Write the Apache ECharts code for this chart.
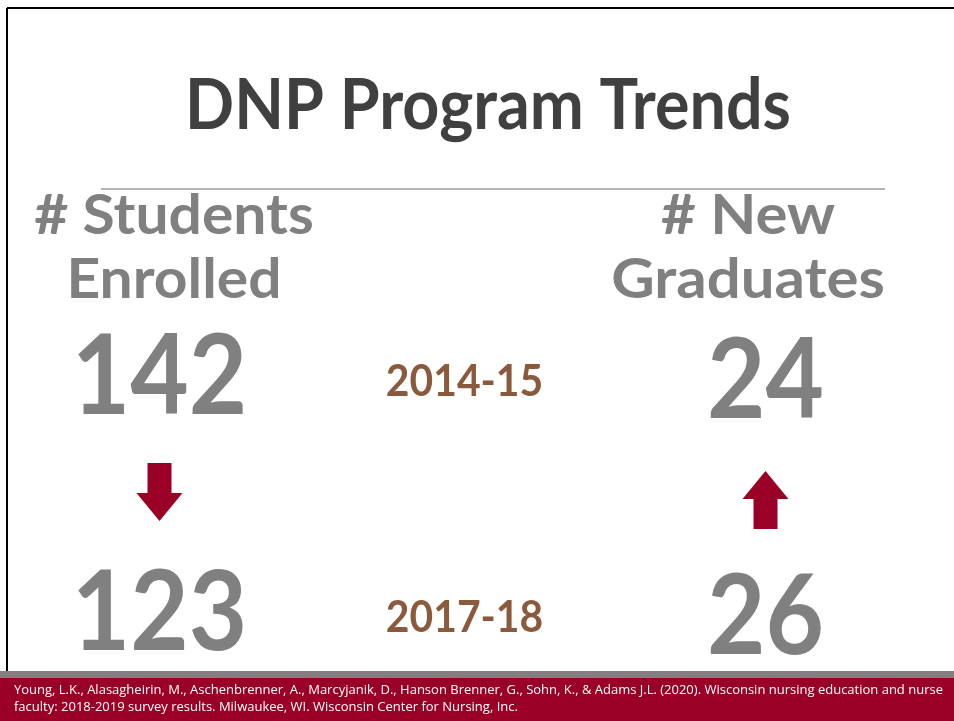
<!DOCTYPE html>
<html>
<head>
<meta charset="utf-8">
<script src="https://cdn.jsdelivr.net/npm/echarts@6/dist/echarts.min.js"></script>
<style>
	html, body { margin: 0; padding: 0; background: #fff; }
	#chart { width: 954px; height: 721px; }
</style>
</head>
<body>
<div id="chart"></div>
<script>
	// data
	var years = ['2014-15', '2017-18'];
	var columns = ['# Students\nEnrolled', 'year', '# New\nGraduates'];
	var enrolled = [142, 123];
	var graduates = [24, 26];
	var title = 'DNP Program Trends';
	var source = 'Young, L.K., Alasagheirin, M., Aschenbrenner, A., Marcyjanik, D., Hanson Brenner, G., Sohn, K., & Adams J.L. (2020). Wisconsin nursing education and nurse\nfaculty: 2018-2019 survey results. Milwaukee, WI. Wisconsin Center for Nursing, Inc.';

	var rows = [years[0], 'change', years[1]];
	var gray = '#808080';
	var brown = '#8b5a3c';
	var red = '#9a0026';

	// one entry per mark: [column, row], what to draw
	var items = [
		{ value: [0, 0], kind: 'num', text: String(enrolled[0]) },
		{ value: [0, 2], kind: 'num', text: String(enrolled[1]) },
		{ value: [2, 0], kind: 'num', text: String(graduates[0]) },
		{ value: [2, 2], kind: 'num', text: String(graduates[1]) },
		{ value: [1, 0], kind: 'year', text: years[0] },
		{ value: [1, 2], kind: 'year', text: years[1] },
		{ value: [0, 1], kind: 'arrow', up: enrolled[1] >= enrolled[0] },
		{ value: [2, 1], kind: 'arrow', up: graduates[1] >= graduates[0] }
	];

	function renderItem(params, api) {
		var it = items[params.dataIndex];
		var p = api.coord([api.value(0), api.value(1)]);
		if (it.kind === 'arrow') {
			// 46 x 58 block arrow, pointing up, flipped when the value dropped
			var s = it.up ? 1 : -1;
			var dy = it.up ? 4 : -4;
			return {
				type: 'polygon',
				x: p[0], y: p[1] + dy,
				shape: { points: [[0, -29 * s], [23, -1 * s], [12, -1 * s], [12, 29 * s], [-12, 29 * s], [-12, -1 * s], [-23, -1 * s]] },
				style: { fill: red }
			};
		}
		if (it.kind === 'year') {
			return {
				type: 'text', x: p[0] + 2, y: p[1] + 4, scaleX: 0.95,
				style: { text: it.text, fill: brown, font: 'bold 43px Lato', textAlign: 'center', textVerticalAlign: 'middle' }
			};
		}
		var off = api.value(0) === 2 ? 4 : 0;
		return {
			type: 'text', x: p[0], y: p[1] + off, scaleX: 0.9,
			style: { text: it.text, fill: gray, font: 'bold 112px Lato', textAlign: 'center', textVerticalAlign: 'middle' }
		};
	}

	var chart = echarts.init(document.getElementById('chart'));
	var option = {
		animation: false,
		backgroundColor: '#fff',
		grid: { left: 8, width: 909, top: 319, height: 354 },
		xAxis: { type: 'category', data: columns, show: false },
		yAxis: { type: 'category', data: rows, inverse: true, show: false },
		graphic: [
			// slide frame
			{ type: 'line', shape: { x1: 7, y1: 8, x2: 954, y2: 8 }, style: { stroke: '#000', lineWidth: 2 } },
			{ type: 'line', shape: { x1: 7, y1: 8, x2: 7, y2: 671 }, style: { stroke: '#000', lineWidth: 2 } },
			{ type: 'line', shape: { x1: 101, y1: 189, x2: 885, y2: 189 }, style: { stroke: '#b5b5b5', lineWidth: 2 } },
			{
				type: 'text', x: 488, y: 106, scaleX: 0.923,
				style: { text: title, fill: '#404040', font: 'bold 70px Lato', textAlign: 'center', textVerticalAlign: 'middle' }
			},
			{
				type: 'text', x: 174, y: 248, scaleX: 1.05,
				style: { text: columns[0], fill: gray, font: 'bold 56px Lato', lineHeight: 64, textAlign: 'center', textVerticalAlign: 'middle' }
			},
			{
				type: 'text', x: 748, y: 248, scaleX: 1.07,
				style: { text: columns[2], fill: gray, font: 'bold 56px Lato', lineHeight: 64, textAlign: 'center', textVerticalAlign: 'middle' }
			},
			// footer
			{ type: 'rect', shape: { x: 0, y: 671, width: 954, height: 7 }, style: { fill: '#808080' } },
			{ type: 'rect', shape: { x: 0, y: 678, width: 954, height: 43 }, style: { fill: '#9a0026' } },
			{
				type: 'text', x: 14, y: 699,
				style: { text: source, fill: '#fff', font: '13px "Open Sans"', lineHeight: 17, textVerticalAlign: 'middle' }
			}
		],
		series: [
			{
				name: 'slide',
				type: 'custom',
				renderItem: renderItem,
				data: items.map(function (it) { return it.value; })
			}
		]
	};
	chart.setOption(option);
</script>
</body>
</html>
